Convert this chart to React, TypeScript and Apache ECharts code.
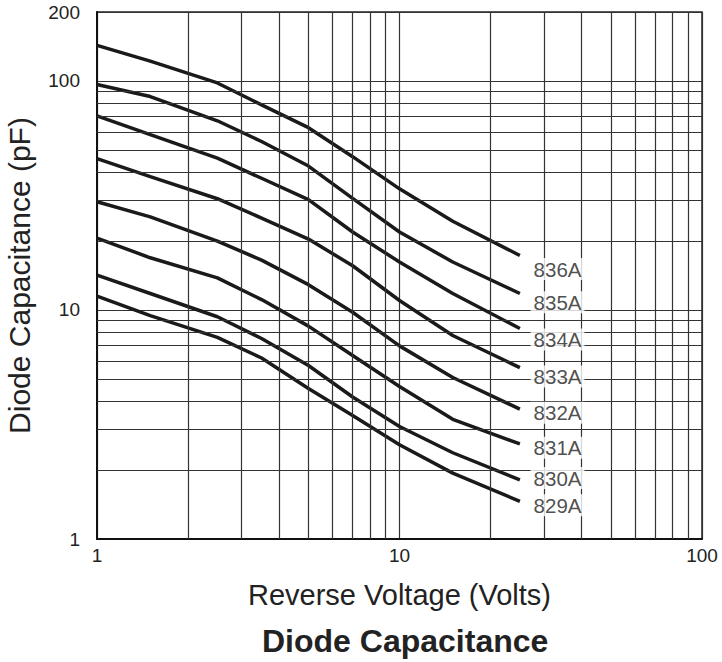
import React, { useEffect, useRef } from "react";
import * as echarts from "echarts";

// Reverse voltage (V) sample points
const voltage = [1, 1.5, 2.5, 3.5, 5, 7, 10, 15, 25];

// Diode capacitance (pF) per part
const seriesNames = ["836A", "835A", "834A", "833A", "832A", "831A", "830A", "829A"];
const c836A = [143, 122, 98, 78.6, 62.5, 46.7, 33.8, 24.4, 17.3];
const c835A = [96.5, 85.5, 67, 54.4, 42.5, 30.7, 21.9, 16.2, 11.8];
const c834A = [70.4, 58.3, 46.0, 37.6, 30.3, 21.9, 16.2, 11.8, 8.3];
const c833A = [45.8, 38.2, 30.6, 25.2, 20.4, 15.6, 11.0, 7.74, 5.6];
const c832A = [29.7, 25.5, 20.0, 16.5, 12.9, 9.77, 6.97, 5.07, 3.69];
const c831A = [20.6, 16.9, 13.8, 11.1, 8.5, 6.33, 4.63, 3.33, 2.6];
const c830A = [14.2, 11.8, 9.34, 7.51, 5.72, 4.17, 3.1, 2.38, 1.81];
const c829A = [11.5, 9.44, 7.59, 6.17, 4.54, 3.46, 2.58, 1.94, 1.46];
const curves = [c836A, c835A, c834A, c833A, c832A, c831A, c830A, c829A];

// Curve label anchor points (voltage, capacitance)
const labelX = 33.3;
const labelY = [15.09, 10.81, 7.44, 5.12, 3.56, 2.5, 1.846, 1.405];

// Minor grid values
const xMinor = [2, 3, 4, 5, 6, 7, 8, 9, 20, 30, 40, 50, 60, 70, 80, 90];
const yMinor = [2, 3, 4, 5, 6, 7, 8, 9, 20, 30, 40, 50, 60, 70, 80, 90];

const FONT = "Liberation Sans, Arial, Helvetica, sans-serif";
const INK = "#222";

export default function App() {
  const ref = useRef<HTMLDivElement>(null);

  useEffect(() => {
    document.body.style.margin = "0";
    if (!ref.current) return;
    const chart = echarts.init(ref.current, undefined, { renderer: "svg" });

    const lineSeries = curves.map((vals, i) => ({
      name: seriesNames[i],
      type: "line",
      data: voltage.map((v, j) => [v, vals[j]]),
      symbol: "none",
      lineStyle: { color: "#1a1a1a", width: 3.5 },
      z: 4,
      silent: true,
    }));

    const gridSeries = {
      name: "grid",
      type: "line",
      data: [],
      silent: true,
      z: 1,
      markLine: {
        silent: true,
        symbol: ["none", "none"],
        label: { show: false },
        lineStyle: { color: "#333", width: 1.2, type: "solid" },
        emphasis: { disabled: true },
        data: [
          ...xMinor.map((v) => ({ xAxis: v })),
          ...yMinor.map((v) => ({ yAxis: v })),
        ],
      },
    };

    const labelSeries = {
      name: "labels",
      type: "scatter",
      symbolSize: 0,
      silent: true,
      z: 6,
      data: seriesNames.map((n, i) => ({ name: n, value: [labelX, labelY[i]] })),
      label: {
        show: true,
        position: "inside",
        formatter: "{b}",
        fontFamily: FONT,
        fontSize: 20.5,
        color: INK,
        backgroundColor: "#fff",
        padding: [1, 3, 0, 3],
      },
    };

    chart.setOption({
      animation: false,
      backgroundColor: "#fff",
      title: {
        text: "Diode Capacitance",
        left: 262,
        top: 625,
        padding: 0,
        textStyle: { fontFamily: FONT, fontSize: 32, fontWeight: "bold", color: INK },
      },
      grid: {
        left: 97,
        right: 20,
        top: 12,
        bottom: 123,
        containLabel: false,
        outerBoundsMode: "none",
        show: true,
        borderColor: "#222",
        borderWidth: 1.5,
      },
      xAxis: {
        type: "log",
        logBase: 10,
        min: 1,
        max: 100,
        name: "Reverse Voltage (Volts)",
        nameLocation: "middle",
        nameGap: 41,
        nameTextStyle: { fontFamily: FONT, fontSize: 29, color: INK },
        axisLine: { show: true, lineStyle: { color: "#111", width: 2 } },
        axisTick: { show: false },
        axisLabel: {
          fontFamily: FONT,
          fontSize: 19,
          color: INK,
          margin: 7,
          formatter: (v: number) => String(Math.round(v)),
        },
        splitLine: { show: true, lineStyle: { color: "#333", width: 1.2 } },
      },
      yAxis: {
        type: "log",
        logBase: 10,
        min: 1,
        max: 200,
        name: "Diode Capacitance (pF)",
        nameLocation: "middle",
        nameGap: 63,
        nameTextStyle: { fontFamily: FONT, fontSize: 30, color: INK },
        axisLine: { show: true, lineStyle: { color: "#111", width: 2 } },
        axisTick: { show: false },
        axisLabel: {
          fontFamily: FONT,
          fontSize: 19,
          color: INK,
          margin: 17,
          formatter: (v: number) => String(Math.round(v)),
        },
        splitLine: { show: true, lineStyle: { color: "#333", width: 1.2 } },
      },
      series: [gridSeries, ...lineSeries, labelSeries],
    });

    return () => chart.dispose();
  }, []);

  return <div ref={ref} style={{ width: 722, height: 662 }} />;
}
